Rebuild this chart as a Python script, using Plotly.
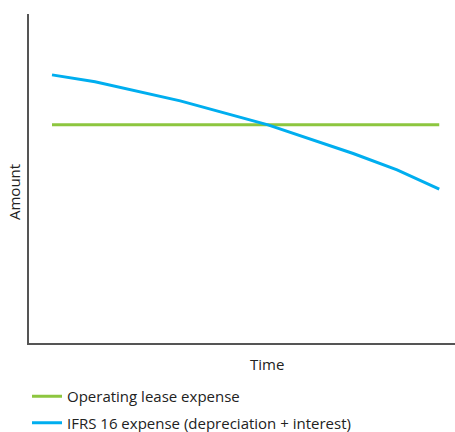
import plotly.graph_objects as go

# Data (arbitrary units)
series_names = ["Operating lease expense", "IFRS 16 expense (depreciation + interest)"]
lease_time = [5.4, 96.3]
lease_amount = [66.3, 66.3]
ifrs_time = [5.4, 15.5, 35.5, 56.1, 76.1, 86.4, 96.3]
ifrs_amount = [81.5, 79.4, 73.6, 66.3, 57.6, 52.6, 46.8]

W, H = 455, 432
FONT = "Open Sans"
FS = 15
fig = go.Figure()
fig.add_trace(go.Scatter(x=lease_time, y=lease_amount, mode="lines", name=series_names[0],
                         line=dict(color="#8dc63f", width=3), legendgroup="a"))
fig.add_trace(go.Scatter(x=ifrs_time, y=ifrs_amount, mode="lines", name=series_names[1],
                         line=dict(color="#00aeef", width=3), legendgroup="b"))

fig.update_layout(
    width=W, height=H,
    margin=dict(l=29, r=0, t=14, b=89, pad=0, autoexpand=False),
    paper_bgcolor="white", plot_bgcolor="white",
    font=dict(family=FONT, size=FS, color="#222222"),
    showlegend=True,
    legend=dict(xref="container", yref="container", x=27 / W, y=1 - 380 / H,
                xanchor="left", yanchor="top", tracegroupgap=4,
                itemwidth=30, font=dict(size=FS), bgcolor="rgba(0,0,0,0)"),
    xaxis=dict(range=[0, 100], showgrid=False, zeroline=False, showticklabels=False,
               ticks="", showline=True, linecolor="#555555", linewidth=1.5, fixedrange=True),
    yaxis=dict(range=[0, 100], showgrid=False, zeroline=False, showticklabels=False,
               ticks="", showline=True, linecolor="#555555", linewidth=1.5, fixedrange=True),
    annotations=[
        dict(text="Time", xref="paper", yref="paper", x=(267 - 29) / (W - 29), y=-(364 - 343) / (343 - 14),
             xanchor="center", yanchor="middle", showarrow=False, font=dict(size=FS)),
        dict(text="Amount", xref="paper", yref="paper", x=-(29 - 14) / (W - 29), y=(343 - 192) / (343 - 14),
             xanchor="center", yanchor="middle", showarrow=False, textangle=-90, font=dict(size=FS)),
    ],
)
fig.write_html("out.html", config={"displayModeBar": False},
               post_script="document.body.style.margin='0';document.body.style.overflow='hidden';")
